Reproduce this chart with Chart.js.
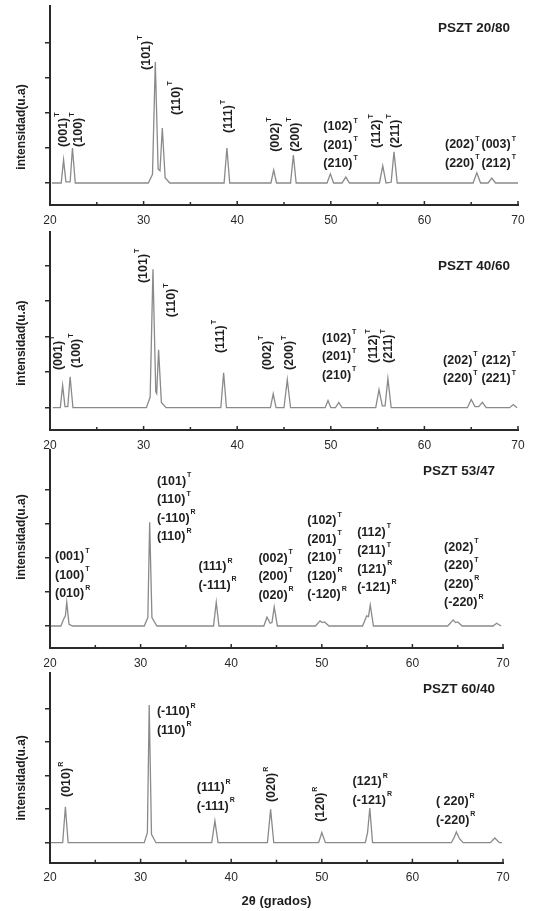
<!DOCTYPE html>
<html>
<head>
<meta charset="utf-8">
<script src="https://cdn.jsdelivr.net/npm/chart.js@4.4.1/dist/chart.umd.min.js"></script>
<style>
  body { margin: 0; background: #fff; width: 536px; height: 911px; position: relative; overflow: hidden; }
  canvas { position: absolute; left: 0; }
</style>
</head>
<body>
<script>
const xTicks = [20, 30, 40, 50, 60, 70];
const xMinorTicks = [25, 35, 45, 55, 65];
const yTicks = [0, 1, 2, 3, 4];

// PSZT 20/80
const p1X = [20.2, 21.2, 21.45, 21.7, 22.15, 22.4, 22.7, 30.5, 30.95, 31.25, 31.55, 31.75, 32.0, 32.3, 32.8,
  38.6, 38.9, 39.2, 43.6, 43.9, 44.2, 45.7, 46.0, 46.3, 49.6, 49.95, 50.3, 51.2, 51.6, 52.0,
  55.2, 55.55, 55.9, 56.45, 56.75, 57.1, 65.2, 65.6, 66.0, 66.8, 67.2, 67.6, 70.0];
const p1Y = [0, 0, 0.66, 0.03, 0.03, 1.0, 0, 0, 0.25, 3.46, 0.4, 0.35, 1.57, 0.15, 0,
  0, 1.0, 0, 0, 0.37, 0, 0, 0.8, 0, 0, 0.26, 0, 0, 0.17, 0,
  0, 0.49, 0, 0.02, 0.89, 0, 0, 0.29, 0, 0, 0.14, 0, 0];
const p1Labels = [
  { x: 21.4, y: 1.03, rot: true, lines: [['(001)', 'T']] },
  { x: 23.0, y: 1.03, rot: true, lines: [['(100)', 'T']] },
  { x: 30.3, y: 3.23, rot: true, lines: [['(101)', 'T']] },
  { x: 33.5, y: 1.94, rot: true, lines: [['(110)', 'T']] },
  { x: 39.1, y: 1.43, rot: true, lines: [['(111)', 'T']] },
  { x: 44.06, y: 0.89, rot: true, lines: [['(002)', 'T']] },
  { x: 46.2, y: 0.89, rot: true, lines: [['(200)', 'T']] },
  { x: 49.2, y: 1.6, lines: [['(102)', 'T'], ['(201)', 'T'], ['(210)', 'T']] },
  { x: 54.9, y: 1.0, rot: true, lines: [['(112)', 'T']] },
  { x: 56.9, y: 1.0, rot: true, lines: [['(211)', 'T']] },
  { x: 62.2, y: 1.09, lines: [['(202)', 'T'], ['(220)', 'T']] },
  { x: 66.1, y: 1.09, lines: [['(003)', 'T'], ['(212)', 'T']] },
];

// PSZT 40/60
const p2X = [20.3, 21.1, 21.35, 21.6, 21.9, 22.15, 22.45, 30.3, 30.7, 31.0, 31.3, 31.4, 31.6, 31.9, 32.4,
  38.25, 38.55, 38.85, 43.55, 43.85, 44.15, 45.0, 45.35, 45.7, 49.4, 49.7, 50.0, 50.5, 50.85, 51.2,
  54.8, 55.15, 55.5, 55.8, 56.1, 56.45, 64.6, 65.0, 65.4, 65.8, 66.2, 66.6, 69.1, 69.5, 69.9];
const p2Y = [0, 0, 0.63, 0.03, 0.03, 0.87, 0, 0, 0.3, 3.9, 0.45, 0.4, 1.63, 0.15, 0,
  0, 0.98, 0, 0, 0.39, 0, 0, 0.79, 0, 0, 0.2, 0, 0, 0.15, 0,
  0, 0.51, 0.05, 0.05, 0.82, 0, 0, 0.23, 0.03, 0.03, 0.15, 0, 0, 0.09, 0];
const p2Labels = [
  { x: 20.9, y: 1.06, rot: true, lines: [['(001)', 'T']] },
  { x: 22.85, y: 1.12, rot: true, lines: [['(100)', 'T']] },
  { x: 29.97, y: 3.51, rot: true, lines: [['(101)', 'T']] },
  { x: 33.0, y: 2.55, rot: true, lines: [['(110)', 'T']] },
  { x: 38.2, y: 1.54, rot: true, lines: [['(111)', 'T']] },
  { x: 43.2, y: 1.06, rot: true, lines: [['(002)', 'T']] },
  { x: 45.6, y: 1.06, rot: true, lines: [['(200)', 'T']] },
  { x: 49.05, y: 1.96, lines: [['(102)', 'T'], ['(201)', 'T'], ['(210)', 'T']] },
  { x: 54.6, y: 1.26, rot: true, lines: [['(112)', 'T']] },
  { x: 56.2, y: 1.26, rot: true, lines: [['(211)', 'T']] },
  { x: 62.0, y: 1.34, lines: [['(202)', 'T'], ['(220)', 'T']] },
  { x: 66.1, y: 1.34, lines: [['(212)', 'T'], ['(221)', 'T']] },
];

// PSZT 53/47
const p3X = [20.1, 21.2, 21.5, 21.7, 21.85, 22.1, 22.5, 30.4, 30.8, 31.0, 31.25, 31.8,
  38.05, 38.35, 38.65, 43.6, 43.95, 44.3, 44.5, 44.75, 45.1, 49.3, 49.8, 50.05, 50.3, 50.8,
  54.5, 54.95, 55.15, 55.35, 55.7, 63.9, 64.5, 64.75, 65.0, 65.5, 68.9, 69.3, 69.8];
const p3Y = [0, 0, 0.2, 0.3, 0.7, 0.05, 0, 0, 0.25, 3.05, 0.25, 0,
  0, 0.7, 0, 0, 0.26, 0.08, 0.1, 0.56, 0, 0, 0.15, 0.1, 0.12, 0,
  0, 0.3, 0.28, 0.62, 0, 0, 0.18, 0.1, 0.12, 0, 0, 0.08, 0];
const p3Labels = [
  { x: 20.55, y: 2.04, lines: [['(001)', 'T'], ['(100)', 'T'], ['(010)', 'R']] },
  { x: 31.8, y: 4.26, lines: [['(101)', 'T'], ['(110)', 'T'], ['(-110)', 'R'], ['(110)', 'R']] },
  { x: 36.4, y: 1.74, lines: [['(111)', 'R'], ['(-111)', 'R']] },
  { x: 43.0, y: 2.0, lines: [['(002)', 'T'], ['(200)', 'T'], ['(020)', 'R']] },
  { x: 48.4, y: 3.09, lines: [['(102)', 'T'], ['(201)', 'T'], ['(210)', 'T'], ['(120)', 'R'], ['(-120)', 'R']] },
  { x: 53.9, y: 2.76, lines: [['(112)', 'T'], ['(211)', 'T'], ['(121)', 'R'], ['(-121)', 'R']] },
  { x: 63.5, y: 2.32, lines: [['(202)', 'T'], ['(220)', 'T'], ['(220)', 'R'], ['(-220)', 'R']] },
];

// PSZT 60/40
const p4X = [20.1, 21.4, 21.7, 22.0, 30.4, 30.75, 30.95, 31.2, 31.7, 37.85, 38.2, 38.55,
  44.0, 44.35, 44.7, 49.65, 50.0, 50.4, 54.8, 55.05, 55.3, 55.6, 64.3, 64.6, 64.85, 65.2, 65.6,
  68.6, 69.1, 69.6, 69.9];
const p4Y = [0, 0, 1.07, 0, 0, 0.3, 4.1, 0.25, 0, 0, 0.65, 0,
  0, 0.99, 0, 0, 0.3, 0, 0, 0.3, 1.03, 0, 0, 0.15, 0.32, 0.12, 0,
  0, 0.14, 0, 0];
const p4Labels = [
  { x: 21.85, y: 1.36, rot: true, lines: [['(010)', 'R']] },
  { x: 31.8, y: 3.89, lines: [['(-110)', 'R'], ['(110)', 'R']] },
  { x: 36.2, y: 1.63, lines: [['(111)', 'R'], ['(-111)', 'R']] },
  { x: 44.5, y: 1.21, rot: true, lines: [['(020)', 'R']] },
  { x: 49.9, y: 0.62, rot: true, lines: [['(120)', 'R']] },
  { x: 53.4, y: 1.81, lines: [['(121)', 'R'], ['(-121)', 'R']] },
  { x: 62.6, y: 1.21, lines: [['( 220)', 'R'], ['(-220)', 'R']] },
];

// panel layout (pixels) — kept apart from the data
const panels = [
  { title: 'PSZT 20/80', xs: p1X, ys: p1Y, labels: p1Labels, titleY: 4.43, yTitleY: 1.6,
    top: 0, height: 226, padTop: 6, padRight: 18, axisH: 21, yMin: -0.629, yMax: 5.057 },
  { title: 'PSZT 40/60', xs: p2X, ys: p2Y, labels: p2Labels, titleY: 3.99, yTitleY: 1.82,
    top: 226, height: 223, padTop: 6, padRight: 18, axisH: 19, yMin: -0.628, yMax: 4.95 },
  { title: 'PSZT 53/47', xs: p3X, ys: p3Y, labels: p3Labels, titleY: 4.54, yTitleY: 2.62,
    top: 449, height: 220, padTop: 1, padRight: 33, axisH: 21, yMin: -0.647, yMax: 5.18 },
  { title: 'PSZT 60/40', xs: p4X, ys: p4Y, labels: p4Labels, titleY: 4.57, yTitleY: 1.93,
    top: 669, height: 242, padTop: 4, padRight: 33, axisH: 48.3, yMin: -0.595, yMax: 5.05, xTitle: '2θ (grados)' },
];

const FONT = '"Liberation Sans", Arial, sans-serif';
const INK = '#1e1e1e';
const AXIS = '#2a2a2a';

function drawHkl(ctx, lines, x, y, step) {
  lines.forEach(([txt, sup], i) => {
    ctx.font = 'bold 12.5px ' + FONT;
    ctx.fillText(txt, x, y + i * step);
    const w = ctx.measureText(txt).width;
    ctx.font = 'bold 7px ' + FONT;
    ctx.fillText(sup, x + w + 1, y + i * step - 6);
  });
}

const xrdDecor = {
  id: 'xrdDecor',
  afterDraw(chart, args, opts) {
    const ctx = chart.ctx;
    const xs = chart.scales.x, ys = chart.scales.y, area = chart.chartArea;
    ctx.save();

    // ticks on the x axis point inward
    ctx.strokeStyle = AXIS;
    ctx.lineWidth = 1.5;
    xTicks.concat(xMinorTicks).forEach((v) => {
      const px = xs.getPixelForValue(v);
      const len = xTicks.includes(v) ? 4 : 3;
      ctx.beginPath();
      ctx.moveTo(px, area.bottom);
      ctx.lineTo(px, area.bottom - len);
      ctx.stroke();
    });

    ctx.fillStyle = INK;
    ctx.textBaseline = 'middle';
    ctx.textAlign = 'left';

    // Miller-index labels
    opts.labels.forEach((lb) => {
      const px = xs.getPixelForValue(lb.x);
      const py = ys.getPixelForValue(lb.y);
      if (lb.rot) {
        ctx.save();
        ctx.translate(px, py);
        ctx.rotate(-Math.PI / 2);
        drawHkl(ctx, lb.lines, 0, 0, 18);
        ctx.restore();
      } else {
        drawHkl(ctx, lb.lines, px, py, 18.5);
      }
    });

    // sample name
    ctx.font = 'bold 13.5px ' + FONT;
    ctx.textAlign = 'right';
    ctx.fillText(opts.title, area.right - 8, ys.getPixelForValue(opts.titleY));

    // y-axis title
    ctx.save();
    ctx.translate(22, ys.getPixelForValue(opts.yTitleY));
    ctx.rotate(-Math.PI / 2);
    ctx.textAlign = 'center';
    ctx.font = 'bold 12px ' + FONT;
    ctx.fillText('intensidad(u.a)', 0, 0);
    ctx.restore();

    if (opts.xTitle) {
      ctx.textAlign = 'center';
      ctx.font = 'bold 13px ' + FONT;
      ctx.fillText(opts.xTitle, (area.left + area.right) / 2, area.bottom + 39);
    }
    ctx.restore();
  },
};

panels.forEach((p) => {
  const canvas = document.createElement('canvas');
  canvas.width = 536;
  canvas.height = p.height;
  canvas.style.top = p.top + 'px';
  document.body.appendChild(canvas);

  new Chart(canvas.getContext('2d'), {
    type: 'line',
    data: {
      datasets: [{
        data: p.xs.map((x, i) => ({ x, y: p.ys[i] })),
        borderColor: '#8a8a8a',
        borderWidth: 1.3,
        pointRadius: 0,
        tension: 0,
      }],
    },
    options: {
      responsive: false,
      animation: false,
      devicePixelRatio: 1,
      layout: { padding: { top: p.padTop, right: p.padRight, left: 0, bottom: 0 } },
      plugins: {
        legend: { display: false },
        tooltip: { enabled: false },
        xrdDecor: { labels: p.labels, title: p.title, titleY: p.titleY, yTitleY: p.yTitleY, xTitle: p.xTitle },
      },
      scales: {
        x: {
          type: 'linear',
          min: 20,
          max: 70,
          afterBuildTicks: (s) => { s.ticks = xTicks.map((v) => ({ value: v })); },
          afterFit: (s) => { s.height = p.axisH; },
          grid: { display: false, drawTicks: false },
          border: { display: true, color: AXIS, width: 2 },
          ticks: { color: '#2a2a2a', padding: 8, maxRotation: 0, font: { family: FONT, size: 12 } },
        },
        y: {
          type: 'linear',
          min: p.yMin,
          max: p.yMax,
          afterBuildTicks: (s) => { s.ticks = yTicks.map((v) => ({ value: v })); },
          afterFit: (s) => { s.width = 50; },
          grid: { display: true, drawOnChartArea: false, drawTicks: true, tickLength: 5, color: AXIS, lineWidth: 1.5 },
          border: { display: true, color: AXIS, width: 2 },
          ticks: { display: false },
        },
      },
    },
    plugins: [xrdDecor],
  });
});
</script>
</body>
</html>
